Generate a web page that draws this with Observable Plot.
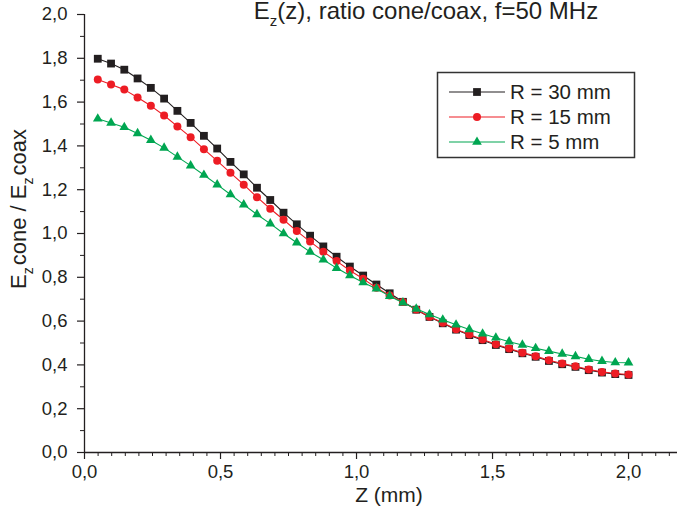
<!DOCTYPE html>
<html><head><meta charset="utf-8">
<script src="https://cdn.jsdelivr.net/npm/d3@7"></script>
<script src="https://cdn.jsdelivr.net/npm/@observablehq/plot@0.6"></script>
<style>
body{margin:0;background:#fff;}
#chart{width:679px;height:508px;}
</style></head><body><div id="chart"></div>
<script>
// Z positions (mm)
const zValues = [0.0488,0.0976,0.1463,0.1951,0.2439,0.2927,0.3415,0.3902,0.4390,0.4878,
  0.5366,0.5854,0.6341,0.6829,0.7317,0.7805,0.8293,0.8780,0.9268,0.9756,
  1.0244,1.0732,1.1220,1.1707,1.2195,1.2683,1.3171,1.3659,1.4146,1.4634,
  1.5122,1.5610,1.6098,1.6585,1.7073,1.7561,1.8049,1.8537,1.9024,1.9512,2.0000];
const seriesNames = ["R = 30 mm", "R = 15 mm", "R = 5 mm"];
const r30 = [1.798,1.776,1.748,1.708,1.665,1.616,1.560,1.505,1.446,1.388,
  1.327,1.270,1.209,1.153,1.095,1.042,0.990,0.941,0.894,0.849,
  0.808,0.767,0.727,0.688,0.652,0.619,0.590,0.561,0.536,0.513,
  0.491,0.472,0.453,0.437,0.418,0.403,0.391,0.376,0.365,0.358,0.354];
const r15 = [1.703,1.680,1.657,1.621,1.583,1.539,1.489,1.440,1.385,1.332,
  1.277,1.223,1.166,1.113,1.063,1.011,0.963,0.917,0.874,0.831,
  0.793,0.752,0.717,0.687,0.653,0.620,0.592,0.563,0.539,0.516,
  0.494,0.475,0.456,0.440,0.421,0.406,0.394,0.379,0.368,0.361,0.356];
const r5 = [1.524,1.505,1.485,1.457,1.426,1.391,1.350,1.310,1.267,1.223,
  1.178,1.132,1.087,1.045,1.000,0.958,0.916,0.880,0.842,0.808,
  0.776,0.748,0.714,0.684,0.656,0.630,0.606,0.583,0.562,0.542,
  0.524,0.506,0.491,0.476,0.463,0.450,0.439,0.426,0.417,0.411,0.410];
const xMajorTicks = [0, 0.5, 1.0, 1.5, 2.0];
const yMajorTicks = [0, 0.2, 0.4, 0.6, 0.8, 1.0, 1.2, 1.4, 1.6, 1.8, 2.0];
const xMinorTicks = [0.05,0.1,0.15,0.2,0.25,0.3,0.35,0.4,0.45,0.55,0.6,0.65,0.7,0.75,0.8,0.85,0.9,0.95,
  1.05,1.1,1.15,1.2,1.25,1.3,1.35,1.4,1.45,1.55,1.6,1.65,1.7,1.75,1.8,1.85,1.9,1.95,2.05,2.1,2.15];
const yMinorTicks = [0.1,0.3,0.5,0.7,0.9,1.1,1.3,1.5,1.7,1.9];

const seriesValues = [r30, r15, r5];
const colors = ["#231f20", "#ed1c24", "#00a651"];
const symbols = ["square", "circle", "triangle"];
const radii = [4.4, 4.0, 3.6];

const rows = [];
seriesNames.forEach((name, s) => zValues.forEach((z, i) => rows.push({series: name, z, e: seriesValues[s][i]})));

const fmt = d => d.toFixed(1).replace(".", ",");
const ink = "#231f20";

const seriesMarks = seriesNames.flatMap((name, s) => {
  const d = rows.filter(r => r.series === name);
  return [
    Plot.line(d, {x: "z", y: "e", stroke: colors[s], strokeWidth: 1.1}),
    Plot.dot(d, {x: "z", y: "e", fill: colors[s], symbol: symbols[s], r: radii[s], stroke: "none"})
  ];
});

const chart = Plot.plot({
  width: 679, height: 508,
  marginLeft: 84, marginRight: 2, marginTop: 14, marginBottom: 56,
  x: {domain: [0, 2.18]},
  y: {domain: [0, 2]},
  style: {fontFamily: "'Liberation Sans', Arial, sans-serif", fontSize: "18.5px", color: ink, background: "white", overflow: "visible"},
  marks: [
    Plot.axisX({ticks: xMinorTicks, tickSize: 4, tickFormat: () => "", label: null, stroke: ink, strokeWidth: 1}),
    Plot.axisX({ticks: xMajorTicks, tickSize: 7, tickPadding: 5, tickFormat: fmt, label: null, stroke: ink, strokeWidth: 1.2, fontSize: 18.5}),
    Plot.axisY({ticks: yMinorTicks, tickSize: 4, tickFormat: () => "", label: null, stroke: ink, strokeWidth: 1}),
    Plot.axisY({ticks: yMajorTicks, tickSize: 7, tickPadding: 10, tickFormat: fmt, label: null, stroke: ink, strokeWidth: 1.2, fontSize: 18.5}),
    Plot.ruleX([0], {stroke: ink, strokeWidth: 1.3}),
    Plot.ruleY([0], {stroke: ink, strokeWidth: 1.3}),
    ...seriesMarks
  ]
});
document.getElementById("chart").appendChild(chart);

const svg = d3.select(chart);
const font = "'Liberation Sans', Arial, sans-serif";

// Title
const title = svg.append("text").attr("x", 426).attr("y", 19).attr("text-anchor", "middle")
  .attr("font-family", font).attr("font-size", 24).attr("fill", ink);
title.append("tspan").text("E");
title.append("tspan").attr("dy", 7).attr("font-size", 15).text("z");
title.append("tspan").attr("dy", -7).text("(z), ratio cone/coax, f=50 MHz");

// X label
svg.append("text").attr("x", 389).attr("y", 502).attr("text-anchor", "middle")
  .attr("font-family", font).attr("font-size", 21).attr("fill", ink).text("Z (mm)");

// Y label
const yl = svg.append("text").attr("transform", "translate(26,209) rotate(-90)")
  .attr("text-anchor", "middle").attr("font-family", font).attr("font-size", 22).attr("fill", ink);
yl.append("tspan").text("E");
yl.append("tspan").attr("dy", 7).attr("font-size", 14).text("z");
yl.append("tspan").attr("dy", -7).attr("dx", 2).text("cone / E");
yl.append("tspan").attr("dy", 7).attr("font-size", 14).text("z");
yl.append("tspan").attr("dy", -7).attr("dx", 2).text("coax");

// Legend
const lg = svg.append("g");
lg.append("rect").attr("x", 437.5).attr("y", 72.5).attr("width", 197).attr("height", 85)
  .attr("fill", "white").attr("stroke", "#333").attr("stroke-width", 1.5);
const symTypes = [d3.symbolSquare, d3.symbolCircle, d3.symbolTriangle];
seriesNames.forEach((name, s) => {
  const cy = 92 + s * 25;
  lg.append("line").attr("x1", 449).attr("x2", 505).attr("y1", cy).attr("y2", cy)
    .attr("stroke", colors[s]).attr("stroke-width", 1.1);
  lg.append("path").attr("transform", `translate(477,${cy})`)
    .attr("d", d3.symbol().type(symTypes[s]).size(Math.PI * radii[s] * radii[s])())
    .attr("fill", colors[s]);
  lg.append("text").attr("x", 510).attr("y", cy).attr("dy", "0.36em").attr("text-anchor", "start")
    .attr("font-family", font).attr("font-size", 20.5).attr("fill", ink).text(name);
});
</script>
</body></html>
